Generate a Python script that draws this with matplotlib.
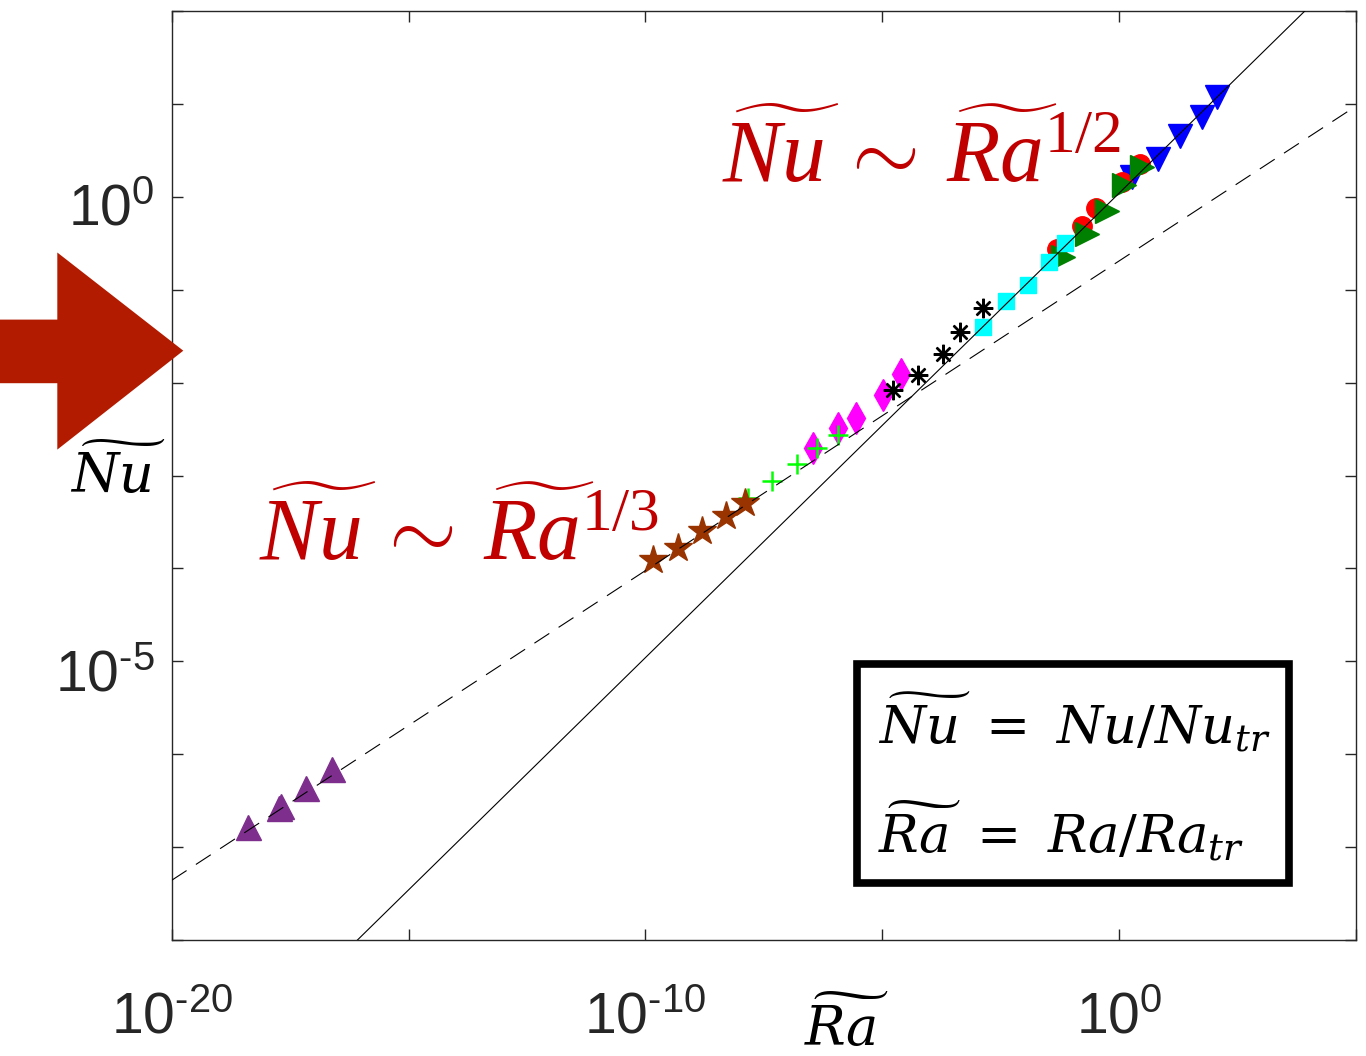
import numpy as np
import matplotlib
matplotlib.use("Agg")
import matplotlib.pyplot as plt
from matplotlib import font_manager
from matplotlib.ft2font import FT2Font
from matplotlib.ticker import FixedLocator, FuncFormatter, NullLocator
from matplotlib.patches import Polygon, Rectangle
from matplotlib.transforms import ScaledTranslation

plt.rcParams["font.family"] = ["Liberation Sans", "DejaVu Sans"]
plt.rcParams["mathtext.fontset"] = "custom"
plt.rcParams["mathtext.rm"] = "Liberation Serif"
plt.rcParams["mathtext.it"] = "Liberation Serif:italic"
plt.rcParams["mathtext.sf"] = "Liberation Sans"

# data, as log10 exponents
blue_ra = [0.27, 0.82, 1.29, 1.74, 2.07]
blue_nu = [0.21, 0.41, 0.65, 0.86, 1.07]
red_ra = [-1.32, -0.79, -0.49, 0.07, 0.44]
red_nu = [-0.56, -0.31, -0.12, 0.16, 0.35]
green_ra = [-1.18, -0.68, -0.26, 0.10, 0.48]
green_nu = [-0.65, -0.40, -0.15, 0.13, 0.32]
cyan_ra = [-2.87, -2.39, -1.93, -1.49, -1.14]
cyan_nu = [-1.40, -1.12, -0.95, -0.70, -0.50]
magenta_ra = [-6.46, -5.93, -5.56, -4.98, -4.60]
magenta_nu = [-2.70, -2.49, -2.38, -2.13, -1.91]
black_ra = [-4.77, -4.24, -3.72, -3.36, -2.87]
black_nu = [-2.08, -1.92, -1.69, -1.46, -1.20]
lime_ra = [-7.83, -7.33, -6.81, -6.38, -5.93]
lime_nu = [-3.24, -3.06, -2.88, -2.70, -2.56]
brown_ra = [-9.85, -9.32, -8.81, -8.30, -7.90]
brown_nu = [-3.91, -3.78, -3.60, -3.44, -3.30]
purple_ra = [-18.40, -17.73, -17.69, -17.16, -16.61]
purple_nu = [-6.78, -6.58, -6.56, -6.36, -6.16]

# scaling laws: Nu = C * Ra^n
solid_c, solid_n = 10 ** 0.04, 1 / 2
dash_c, dash_n = 10 ** -0.69, 1 / 3

series = [
    (blue_ra, blue_nu, dict(marker="v", color="#0000FF", ms=17)),
    (red_ra, red_nu, dict(marker="o", color="#FF0000", ms=14)),
    (green_ra, green_nu, dict(marker=">", color="#008000", ms=17)),
    (cyan_ra, cyan_nu, dict(marker="s", color="#00FFFF", ms=12)),
    (magenta_ra, magenta_nu, dict(marker="d", color="#FF00FF", ms=16)),
    (black_ra, black_nu, dict(marker=(8, 2, 0), color="black", ms=14, mew=1.7)),
    (lime_ra, lime_nu, dict(marker="+", color="#00FF00", ms=14, mew=1.8)),
    (brown_ra, brown_nu, dict(marker="*", color="#993300", ms=21)),
    (purple_ra, purple_nu, dict(marker="^", color="#7E2F8E", ms=18)),
]

fig = plt.figure(figsize=(13.66, 10.56), dpi=100)
ax = fig.add_axes([0.1257, 0.1098, 0.8670, 0.8798])

for ra, nu, style in series:
    ax.plot(10.0 ** np.array(ra), 10.0 ** np.array(nu), linestyle="none",
            mec=style["color"], mfc=style["color"], **style)

ra_line = np.logspace(-20, 5, 300)
ax.plot(ra_line, solid_c * ra_line ** solid_n, color="black", lw=0.8, zorder=5)
ax.plot(ra_line, dash_c * ra_line ** dash_n, color="black", lw=0.8,
        dashes=(16, 10), zorder=5)

ax.set_xscale("log")
ax.set_yscale("log")
ax.set_xlim(1e-20, 1e5)
ax.set_ylim(1e-8, 1e2)

ax.xaxis.set_major_locator(FixedLocator([10.0 ** e for e in range(-20, 6, 5)]))
ax.yaxis.set_major_locator(FixedLocator([10.0 ** e for e in range(-8, 3)]))
ax.xaxis.set_minor_locator(NullLocator())
ax.yaxis.set_minor_locator(NullLocator())

# MATLAB style short hyphen in the exponents, if the font has it
sans = FT2Font(font_manager.findfont("Liberation Sans"))
hyphen = "\u2010" if sans.get_char_index(0x2010) else "-"


def label_every(step):
    def fmt(v, pos):
        e = int(round(np.log10(v)))
        if e % step:
            return ""
        exp = str(e).replace("-", hyphen)
        return r"$\mathsf{10^{%s}}$" % exp
    return FuncFormatter(fmt)


ax.xaxis.set_major_formatter(label_every(10))
ax.yaxis.set_major_formatter(label_every(5))
ax.tick_params(which="both", direction="in", top=True, right=True,
               length=8, width=1, colors="#262626", labelsize=41)
ax.tick_params(axis="x", pad=37)
ax.tick_params(axis="y", pad=12)
for lab in ax.get_yticklabels():
    lab.set_transform(lab.get_transform()
                      + ScaledTranslation(0, -0.08, fig.dpi_scale_trans))
for sp in ax.spines.values():
    sp.set_color("#262626")
    sp.set_linewidth(1)

ax.set_xlabel(r"$\widetilde{Ra}$", fontsize=39, va="baseline",
              math_fontfamily="dejavuserif")
ax.xaxis.set_label_coords(0.5695, -0.1141)
ax.set_ylabel(r"$\widetilde{Nu}$", fontsize=39, rotation=0,
              ha="center", va="baseline", math_fontfamily="dejavuserif")
ax.yaxis.set_label_coords(-0.0455, 0.4812)

W, H = 1366, 1056
red_text = "#C00000"
fig.text(722 / W, 1 - 182 / H, r"$\widetilde{Nu}\:\sim\:\widetilde{Ra}^{1/2}$",
         color=red_text, fontsize=63, va="baseline")
fig.text(259 / W, 1 - 560 / H, r"$\widetilde{Nu}\:\sim\:\widetilde{Ra}^{1/3}$",
         color=red_text, fontsize=63, va="baseline")

# box with definitions
fig.add_artist(Rectangle((857.5 / W, 1 - 882.5 / H), 431.5 / W, 219 / H,
                         transform=fig.transFigure, fill=False,
                         edgecolor="black", lw=5.5))
fig.text(878 / W, 1 - 743 / H, r"$\widetilde{Nu}\ =\ Nu/Nu_{tr}$",
         fontsize=38, va="baseline", math_fontfamily="dejavuserif")
fig.text(878 / W, 1 - 852 / H, r"$\widetilde{Ra}\ =\ Ra/Ra_{tr}$",
         fontsize=38, va="baseline", math_fontfamily="dejavuserif")

# big arrow on the left
arrow_px = [(0, 319.6), (57.3, 319.6), (57.3, 252.5), (183.3, 350.7),
            (57.3, 449.6), (57.3, 383.2), (0, 383.2)]
fig.add_artist(Polygon([(x / W, 1 - y / H) for x, y in arrow_px],
                       closed=True, transform=fig.transFigure,
                       facecolor="#B31B00", edgecolor="none", clip_on=False))

fig.savefig("out.png", dpi=100)
